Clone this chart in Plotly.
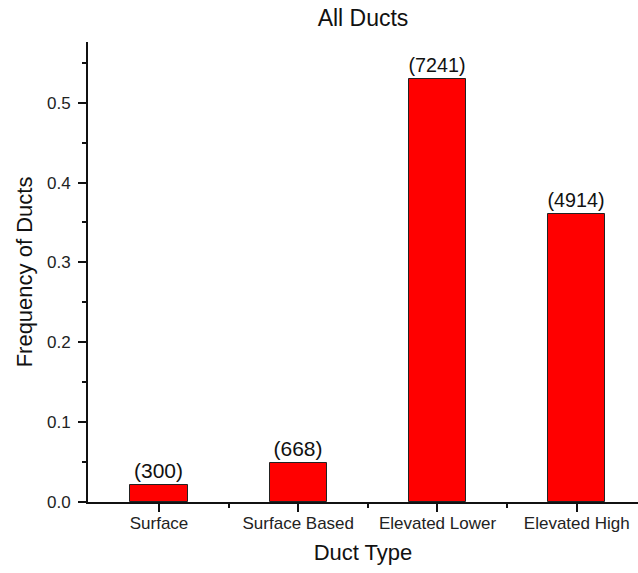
import plotly.graph_objects as go

categories = ["Surface", "Surface Based", "Elevated Lower", "Elevated High"]
frequencies = [0.0217, 0.049, 0.530, 0.361]
counts = [300, 668, 7241, 4914]
y_ticks = [0.0, 0.1, 0.2, 0.3, 0.4, 0.5]

xpos = list(range(len(categories)))
labels = [f"({c})" for c in counts]

FONT = "Liberation Sans, Arial, sans-serif"

W, H = 638, 573

fig = go.Figure()
fig.add_trace(go.Bar(
    x=xpos, y=frequencies, width=0.41,
    marker=dict(color="#ff0000", line=dict(color="#222222", width=1)),
    text=labels, textposition="outside", cliponaxis=False,
    textfont=dict(family=FONT, size=21, color="#111111"),
    hoverinfo="skip",
))

fig.update_layout(
    width=W, height=H,
    margin=dict(l=88, r=0, t=42, b=71, autoexpand=False),
    paper_bgcolor="white", plot_bgcolor="white",
    showlegend=False,
    bargap=0,
    title=dict(text="All Ducts", x=0.5, xref="paper", y=1 - 18/H, yref="container",
               xanchor="center", yanchor="middle", automargin=False,
               font=dict(family=FONT, size=23, color="#111111")),
    font=dict(family=FONT, color="#111111"),
)

fig.update_xaxes(
    range=[-0.51, 3.44], automargin=False,
    tickmode="array", tickvals=xpos, ticktext=categories,
    ticks="outside", ticklen=8, tickwidth=2, tickcolor="#111111",
    tickfont=dict(family=FONT, size=17, color="#222222"),
    ticklabelstandoff=-3,
    showline=True, linecolor="#111111", linewidth=2,
    showgrid=False, zeroline=False,
    minor=dict(tickmode="array", tickvals=[0.5, 1.5, 2.5], ticks="outside",
               ticklen=4, tickwidth=2, tickcolor="#111111", showgrid=False),
    title=dict(text="Duct Type", font=dict(family=FONT, size=22, color="#111111"), standoff=12),
)

fig.update_yaxes(
    range=[0, 0.576], automargin=False,
    tickmode="array", tickvals=y_ticks, ticktext=[f"{v:.1f}" for v in y_ticks],
    ticks="outside", ticklen=8, tickwidth=2, tickcolor="#111111",
    tickfont=dict(family=FONT, size=17, color="#222222"),
    ticklabelstandoff=4,
    showline=True, linecolor="#111111", linewidth=2,
    showgrid=False, zeroline=False,
    minor=dict(tickmode="linear", tick0=0.05, dtick=0.1, ticks="outside",
               ticklen=4, tickwidth=2, tickcolor="#111111", showgrid=False),
    title=dict(text="Frequency of Ducts", font=dict(family=FONT, size=22, color="#111111"), standoff=8),
)

# remove the default 8px page margin so the chart sits at the window's corner
fig.write_html("out.html", config={"displayModeBar": False},
               post_script="document.body.style.margin='0px';")
